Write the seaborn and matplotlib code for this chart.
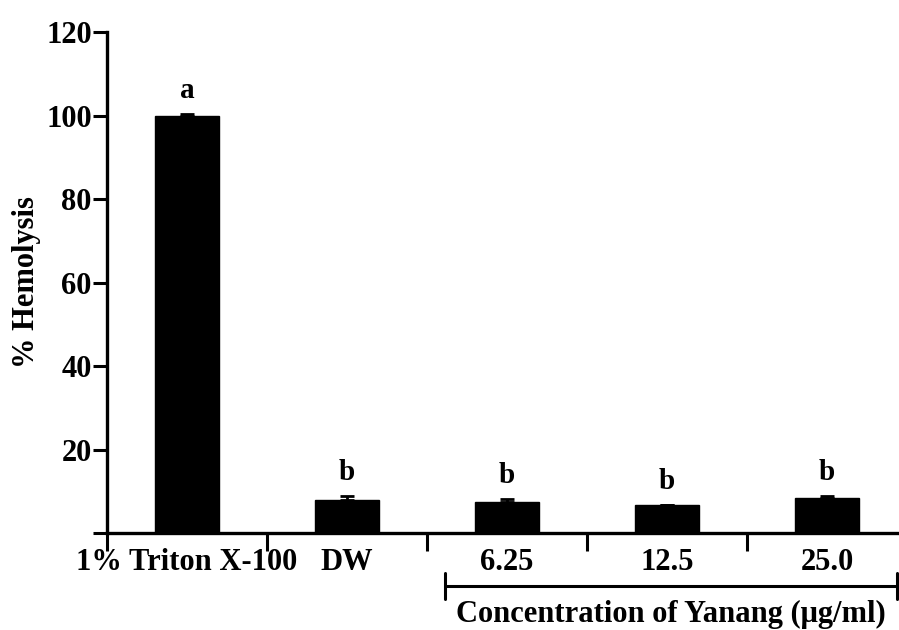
import matplotlib
matplotlib.use("Agg")
import matplotlib.pyplot as plt
import matplotlib.transforms as mtransforms
import seaborn as sns
import numpy as np
import pandas as pd

categories = ["1% Triton X-100", "DW", "6.25", "12.5", "25.0"]
hemolysis = [100.0, 7.9, 7.35, 6.8, 8.4]
errors = [0.4, 1.05, 0.9, 0.0, 0.45]
letters = ["a", "b", "b", "b", "b"]
y_ticks = [0, 20, 40, 60, 80, 100, 120]
y_tick_labels = ["", "20", "40", "60", "80", "100", "120"]

sns.set_theme(style="ticks")
plt.rcParams["font.family"] = ["Liberation Serif", "DejaVu Serif"]
plt.rcParams["font.weight"] = "bold"
plt.rcParams["text.color"] = "black"
plt.rcParams["xtick.color"] = "black"
plt.rcParams["ytick.color"] = "black"
plt.rcParams["axes.labelcolor"] = "black"

df = pd.DataFrame({"group": categories, "value": hemolysis})

fig = plt.figure(figsize=(8.99, 6.30), dpi=100)
ax = fig.add_axes([0.119, 0.154, 0.881, 0.795])

sns.barplot(data=df, x="group", y="value", color="black", width=0.4,
            saturation=1, errorbar=None, ax=ax, edgecolor="black")
pos = np.arange(len(categories))
ax.errorbar(pos, hemolysis, yerr=[np.zeros(len(errors)), errors], fmt="none",
            ecolor="black", elinewidth=2, capsize=5, capthick=2)

for p, v, e, l in zip(pos, hemolysis, errors, letters):
    ax.text(p, v + e + 2.3, l, ha="center", va="bottom", fontsize=21,
            fontweight="bold", color="black")

ax.set_xlim(-0.5, 4.45)
ax.set_ylim(0, 120)
ax.set_yticks(y_ticks)
ax.set_yticklabels(y_tick_labels)
ax.set_ylabel("% Hemolysis", fontsize=22, fontweight="bold", labelpad=4)
ax.set_xlabel("")

# major ticks at category boundaries, labels at centres
ax.set_xticks(pos - 0.5)
ax.set_xticklabels([])
ax.set_xticks(pos, minor=True)
ax.set_xticklabels(categories, minor=True)
ax.tick_params(axis="x", which="major", length=13, width=2.2, direction="out")
ax.tick_params(axis="x", which="minor", length=0, pad=11, labelsize=22)
ax.tick_params(axis="y", length=10, width=2.2, labelsize=22, pad=1)
for lab in ax.get_xticklabels(minor=True):
    lab.set_fontweight("bold")
for lab in ax.get_yticklabels():
    lab.set_fontweight("bold")

sns.despine(ax=ax, top=True, right=True)
for s in ["left", "bottom"]:
    ax.spines[s].set_linewidth(2.4)
    ax.spines[s].set_color("black")

# bracket for concentrations
trans = mtransforms.blended_transform_factory(ax.transData, ax.transAxes)
x0, x1 = 1.61, 4.44
ax.plot([x0, x1], [-0.106, -0.106], color="black", lw=2.2, transform=trans, clip_on=False)
for xx in (x0, x1):
    ax.plot([xx, xx], [-0.08, -0.132], color="black", lw=2.2, transform=trans, clip_on=False)
ax.text((x0 + x1) / 2, -0.134, "Concentration of Yanang (\u03bcg/ml)", transform=trans,
        ha="center", va="top", fontsize=22, fontweight="bold")

fig.savefig("out.png", dpi=100)
